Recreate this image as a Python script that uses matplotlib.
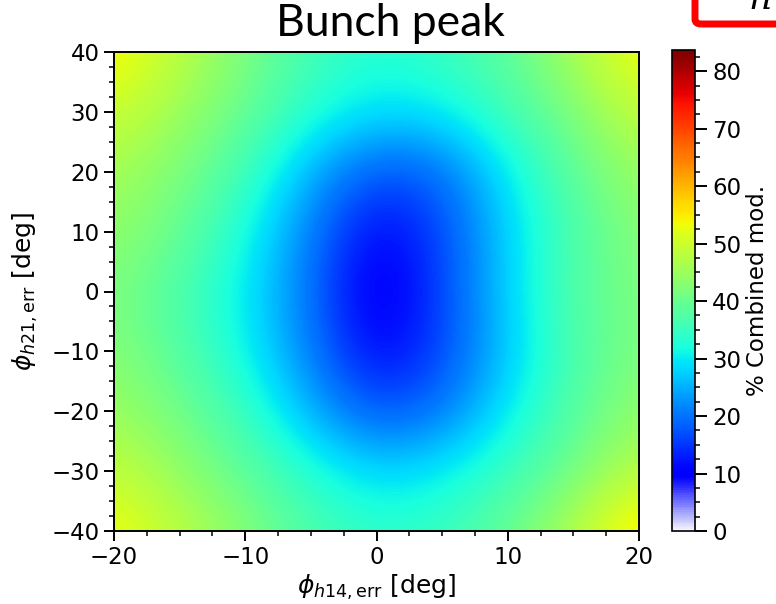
import numpy as np
import matplotlib
matplotlib.use("Agg")
import matplotlib.pyplot as plt
from matplotlib.colors import LinearSegmentedColormap
from matplotlib.ticker import MultipleLocator, AutoMinorLocator
from matplotlib.patches import FancyBboxPatch

plt.rcParams["font.family"] = ["DejaVu Sans"]
plt.rcParams["mathtext.fontset"] = "dejavusans"

# phase error grid (deg)
phi_h14 = [-20, -15, -10, -5, 0, 5, 10, 15, 20]
phi_h21 = [40, 30, 20, 10, 0, -10, -20, -30, -40]

# % combined modulation, one row per phi_h21 value (top to bottom)
row_p40 = [55, 48, 42, 36, 33, 35, 39, 46, 54]
row_p30 = [50, 45, 40, 33, 29, 30, 36, 42, 49]
row_p20 = [46, 42, 36, 25, 17, 19, 30, 39, 45]
row_p10 = [44, 40, 32, 21, 10, 16, 28, 37, 43]
row_0 = [42, 37, 30, 20, 7, 16, 28, 38, 42]
row_m10 = [43, 38, 31, 21, 10, 16, 27, 37, 42]
row_m20 = [45, 41, 35, 25, 17, 20, 30, 38, 44]
row_m30 = [49, 44, 39, 33, 28, 30, 35, 41, 48]
row_m40 = [54, 48, 43, 37, 34, 35, 40, 47, 57]

mod = np.array([row_p40, row_p30, row_p20, row_p10, row_0,
                row_m10, row_m20, row_m30, row_m40], dtype=float)

cbar_ticks = [0, 10, 20, 30, 40, 50, 60, 70, 80]
vmax = 83.7

# jet, but fading to white below the blue
jet = plt.get_cmap("jet")
stops = [(0.0, (0.96, 0.96, 1.0))] + [(p, jet(p)) for p in np.linspace(0.11, 1, 60)]
cmap = LinearSegmentedColormap.from_list("white_jet", stops)

W, H = 776, 604
fig = plt.figure(figsize=(W / 100, H / 100), dpi=100)

ax = fig.add_axes([114 / W, 1 - 531 / H, 525 / W, 479 / H])
dx = (phi_h14[1] - phi_h14[0]) / 2
dy = (phi_h21[0] - phi_h21[1]) / 2
im = ax.imshow(mod, cmap=cmap, vmin=0, vmax=vmax, aspect="auto",
               interpolation="bicubic", origin="upper",
               extent=[phi_h14[0] - dx, phi_h14[-1] + dx,
                       phi_h21[-1] - dy, phi_h21[0] + dy])
ax.set_xlim(-20, 20)
ax.set_ylim(-40, 40)
ax.xaxis.set_major_locator(MultipleLocator(10))
ax.yaxis.set_major_locator(MultipleLocator(10))
ax.xaxis.set_minor_locator(AutoMinorLocator(4))
ax.yaxis.set_minor_locator(AutoMinorLocator(4))
ax.tick_params(which="major", direction="out", length=7, width=1.4,
               labelsize=16.5)
ax.tick_params(which="minor", direction="out", length=3.5, width=1.1)
for s in ax.spines.values():
    s.set_linewidth(1.4)
ax.set_xlabel(r"$\phi_{h14,\mathrm{err}}$ [deg]", fontsize=18, labelpad=3)
ax.set_ylabel(r"$\phi_{h21,\mathrm{err}}$ [deg]", fontsize=18, labelpad=8)

cax = fig.add_axes([672 / W, 1 - 531 / H, 23 / W, 481 / H])
cb = fig.colorbar(im, cax=cax, ticks=cbar_ticks)
cb.ax.yaxis.set_minor_locator(AutoMinorLocator(4))
cb.ax.tick_params(which="major", direction="out", length=8.5, width=1.4,
                  labelsize=16.5, pad=4)
cb.ax.tick_params(which="minor", direction="out", length=3.5, width=1.1)
cb.outline.set_linewidth(1.2)
cb.set_label("% Combined mod.", fontsize=16.5, labelpad=3)

fig.text(390 / W, 1 - 24 / H, "Bunch peak", fontsize=32, family="Lato",
         ha="center", va="center")

# red box sticking in from the top right corner
box = FancyBboxPatch((695 / W, 1 - 24 / H), 120 / W, 60 / H,
                     boxstyle="round,pad=0,rounding_size=0.008",
                     transform=fig.transFigure, fill=False,
                     edgecolor="red", linewidth=5, clip_on=False)
fig.patches.append(box)
fig.text(760 / W, 1 - 9 / H, "n", fontsize=26, style="italic",
         family="DejaVu Serif", ha="center", va="baseline")

fig.savefig("out.png", dpi=100)
